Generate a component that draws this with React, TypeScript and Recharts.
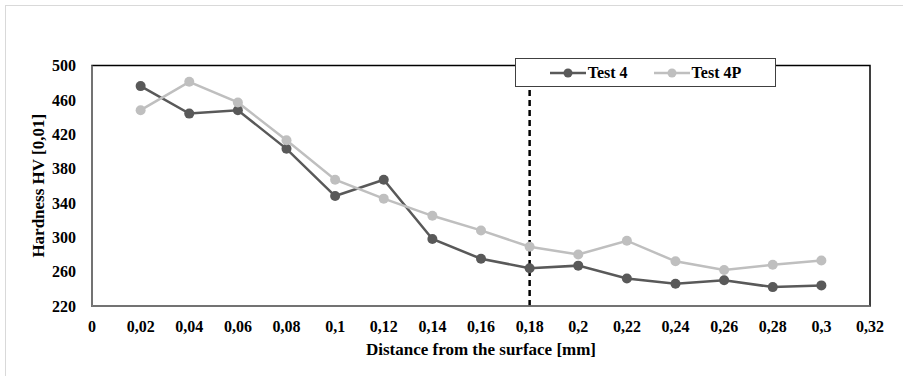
import React from 'react';
import { LineChart, Line, XAxis, YAxis, ReferenceLine, ReferenceArea } from 'recharts';

const distances = [0.02, 0.04, 0.06, 0.08, 0.1, 0.12, 0.14, 0.16, 0.18, 0.2, 0.22, 0.24, 0.26, 0.28, 0.3];
const test4 = [476, 444, 448, 403, 348, 367, 298, 275, 264, 267, 252, 246, 250, 242, 244];
const test4P = [448, 481, 457, 413, 367, 345, 325, 308, 289, 280, 296, 272, 262, 268, 273];
const xTicks = [0, 0.02, 0.04, 0.06, 0.08, 0.1, 0.12, 0.14, 0.16, 0.18, 0.2, 0.22, 0.24, 0.26, 0.28, 0.3, 0.32];
const yTicks = [220, 260, 300, 340, 380, 420, 460, 500];
const markerDepth = 0.18;

const DARK = '#595959';
const LIGHT = '#bfbfbf';
const FONT = '"Liberation Serif", "Times New Roman", serif';

const data = distances.map((d, i) => ({ d, test4: test4[i], test4P: test4P[i] }));

const fmt = (v: number) => String(v).replace('.', ',');

const series = [
  { key: 'test4', name: 'Test 4', color: DARK },
  { key: 'test4P', name: 'Test 4P', color: LIGHT },
];

const LegendBox = () => (
  <div
    style={{
      position: 'absolute',
      left: 515,
      top: 58,
      width: 259,
      height: 27,
      background: '#fff',
      border: '1px solid #404040',
      display: 'flex',
      alignItems: 'center',
      justifyContent: 'center',
      gap: 26,
      fontSize: 16,
      color: '#000',
      zIndex: 2,
    }}
  >
    {series.map((it) => (
      <div key={it.name} style={{ display: 'flex', alignItems: 'center', gap: 2 }}>
        <svg width={36} height={12}>
          <line x1={0} y1={6} x2={36} y2={6} stroke={it.color} strokeWidth={2.5} />
          <circle cx={18} cy={6} r={4.5} fill={it.color} />
        </svg>
        <span>{it.name}</span>
      </div>
    ))}
  </div>
);

export default function App() {
  return (
    <div
      style={{
        position: 'absolute',
        left: 0,
        top: 0,
        width: 903,
        height: 376,
        background: '#fff',
        fontFamily: FONT,
        fontWeight: 'bold',
      }}
    >
      <div
        style={{
          position: 'absolute',
          left: 5,
          top: 5,
          width: 898,
          height: 371,
          borderLeft: '1px solid #d9d9d9',
          borderTop: '1px solid #d9d9d9',
        }}
      />
      <div style={{ position: 'absolute', left: 0, top: 0, zIndex: 1 }}>
        <LineChart
          width={903}
          height={376}
          data={data}
          margin={{ top: 65.5, right: 33, bottom: 0, left: 32 }}
        >
          <ReferenceArea x1={0} x2={0.32} y1={220} y2={500} fill="none" stroke="#000" strokeWidth={1.5} />
          <XAxis
            dataKey="d"
            type="number"
            domain={[0, 0.32]}
            ticks={xTicks}
            tickFormatter={fmt}
            height={70}
            tickLine={false}
            axisLine={{ stroke: '#868686', strokeWidth: 1.5 }}
            tick={{ fill: '#000', fontSize: 16 }}
            tickMargin={9}
            interval={0}
            label={{
              value: 'Distance from the surface [mm]',
              position: 'insideBottom',
              offset: 21,
              fill: '#000',
              fontSize: 17,
            }}
          />
          <YAxis
            type="number"
            domain={[220, 500]}
            ticks={yTicks}
            width={60}
            tickLine={false}
            axisLine={{ stroke: '#868686', strokeWidth: 1.5 }}
            tick={{ fill: '#000', fontSize: 16 }}
            tickMargin={10}
            interval={0}
            label={{
              value: 'Hardness HV [0,01]',
              angle: -90,
              position: 'insideLeft',
              offset: 6,
              style: { textAnchor: 'middle' },
              fill: '#000',
              fontSize: 17,
            }}
          />
          <ReferenceLine x={markerDepth} stroke="#000" strokeWidth={2.5} strokeDasharray="6 4" />
          {series.map((s) => (
            <Line
              key={s.key}
              dataKey={s.key}
              name={s.name}
              stroke={s.color}
              strokeWidth={2.5}
              dot={{ r: 5, fill: s.color, stroke: s.color, strokeWidth: 0 }}
              activeDot={false}
              isAnimationActive={false}
            />
          ))}
        </LineChart>
      </div>
      <LegendBox />
    </div>
  );
}
